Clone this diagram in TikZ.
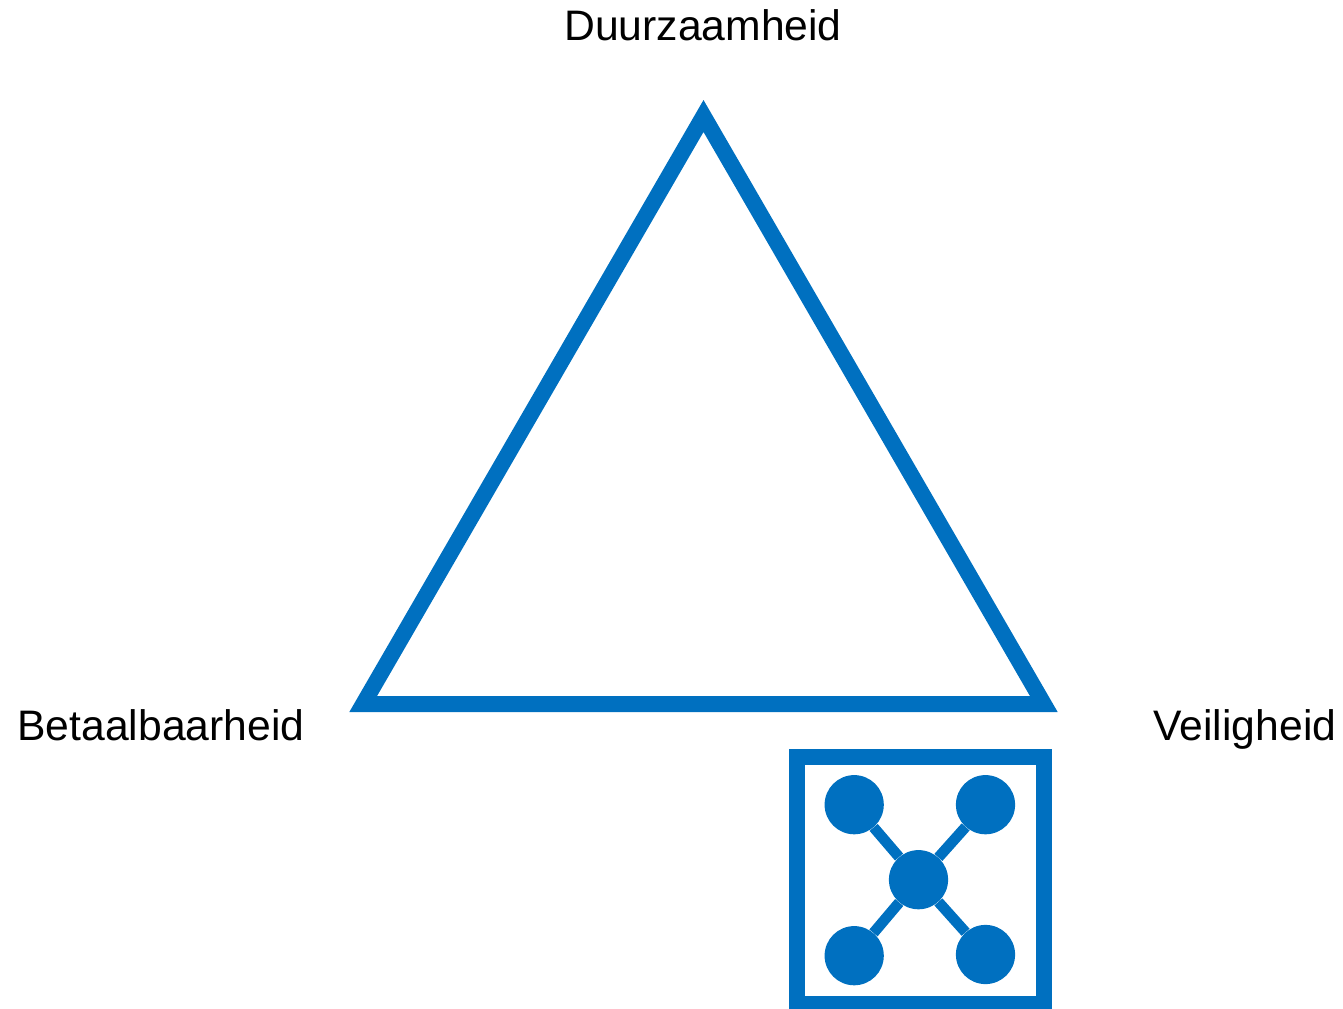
\documentclass[tikz,border=0pt]{standalone}
\usepackage{fontspec}
\setmainfont{Liberation Sans}
\definecolor{eblue}{RGB}{0,112,192}
\tikzset{
  px/.style={x=0.75pt,y=-0.75pt},
  lbl/.style={inner sep=0pt,font=\fontsize{32pt}{36pt}\selectfont,text=black,anchor=base},
  dot/.style={circle,fill=eblue,draw=none,inner sep=0pt,minimum size=44.4pt},
  link/.style={draw=eblue,line width=8pt},
  thick blue/.style={draw=eblue,line width=12pt,miter limit=10}
}
\begin{document}
\begin{tikzpicture}[px]
\useasboundingbox (0,0) rectangle (1343,1009);
\node[lbl] (d) at (703,40.5) {Duurzaamheid};
\node[lbl] (b) at (161,740) {Betaalbaarheid};
\node[lbl] (v) at (1245,740) {Veiligheid};
\draw[thick blue,line join=miter] (703.5,116) -- (1043.8,704) -- (363.2,704) -- cycle;
\node[draw=eblue,line width=12pt,minimum width=185.25pt,minimum height=185.25pt,inner sep=0pt] (box) at (920.2,880.5) {};
\node[dot] (c) at (918.5,879.7) {};
\node[dot] (n1) at (854.2,804.7) {};
\node[dot] (n2) at (985.5,804.7) {};
\node[dot] (n3) at (854.2,955.7) {};
\node[dot] (n4) at (985.5,954.5) {};
\draw[link] (c) -- (n1);
\draw[link] (c) -- (n2);
\draw[link] (c) -- (n3);
\draw[link] (c) -- (n4);
\end{tikzpicture}
\end{document}
